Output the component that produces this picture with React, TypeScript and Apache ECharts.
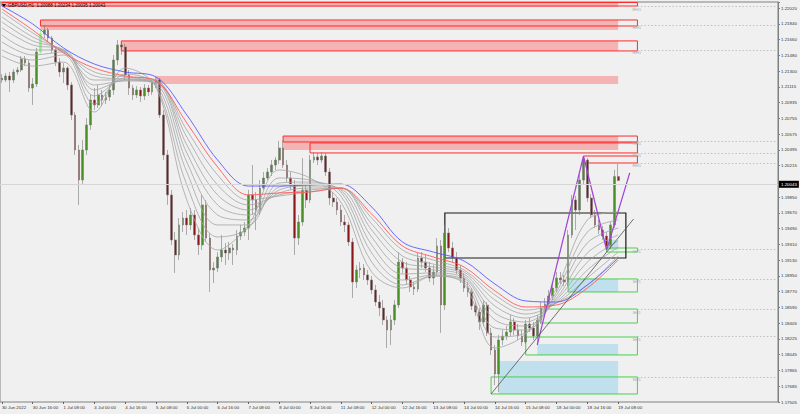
import React, { useEffect, useRef } from 'react';
import * as echarts from 'echarts';

// ---------- price data (GBPUSD bars) ----------
const opens = [1.21218,1.21195,1.21241,1.21195,1.21287,1.21310,1.21436,1.21390,1.21103,1.21149,1.21516,1.21722,1.21768,1.21676,1.21539,1.21401,1.21287,1.21332,1.21138,1.20794,1.20393,1.20049,1.20393,1.20680,1.20966,1.20909,1.21024,1.20966,1.21001,1.21081,1.21424,1.21597,1.21574,1.21253,1.21103,1.21024,1.21081,1.21012,1.21103,1.21058,1.21161,1.21195,1.20794,1.20336,1.19878,1.19362,1.19190,1.19534,1.19613,1.19534,1.19648,1.19419,1.19305,1.19763,1.19384,1.19018,1.19040,1.19167,1.19247,1.19213,1.19270,1.19247,1.19407,1.19453,1.19499,1.19878,1.19820,1.19705,1.19957,1.20072,1.20141,1.20221,1.20278,1.20416,1.20221,1.20072,1.19992,1.19384,1.19568,1.19935,1.19820,1.20278,1.20313,1.20278,1.20324,1.20141,1.19843,1.19797,1.19705,1.19568,1.19534,1.19339,1.18880,1.19018,1.19040,1.18961,1.18903,1.18789,1.18651,1.18582,1.18445,1.18330,1.18445,1.18617,1.19109,1.19040,1.18903,1.18823,1.18800,1.19155,1.19109,1.19040,1.18926,1.18995,1.19293,1.18617,1.19442,1.19270,1.19155,1.19018,1.18926,1.18811,1.18766,1.18605,1.18536,1.18422,1.18617,1.18296,1.18101,1.17826,1.18216,1.18261,1.18307,1.18422,1.18330,1.18261,1.18193,1.18399,1.18353,1.18261,1.18445,1.18582,1.18628,1.18720,1.18811,1.18926,1.18903,1.18880,1.19419,1.19820,1.19705,1.20049,1.20278,1.19843,1.19648,1.19534,1.19476,1.19407,1.19293,1.19534,1.20088];
const closes = [1.21195,1.21241,1.21195,1.21287,1.21310,1.21436,1.21390,1.21103,1.21149,1.21516,1.21722,1.21768,1.21676,1.21539,1.21401,1.21287,1.21332,1.21138,1.20794,1.20393,1.20049,1.20393,1.20680,1.20966,1.20909,1.21024,1.20966,1.21001,1.21081,1.21424,1.21597,1.21574,1.21253,1.21103,1.21024,1.21081,1.21012,1.21103,1.21058,1.21161,1.21195,1.20794,1.20336,1.19878,1.19362,1.19190,1.19534,1.19613,1.19534,1.19648,1.19419,1.19305,1.19763,1.19384,1.19018,1.19040,1.19167,1.19247,1.19213,1.19270,1.19247,1.19407,1.19453,1.19499,1.19878,1.19820,1.19705,1.19957,1.20072,1.20141,1.20221,1.20278,1.20416,1.20221,1.20072,1.19992,1.19384,1.19568,1.19935,1.19820,1.20278,1.20313,1.20278,1.20324,1.20141,1.19843,1.19797,1.19705,1.19568,1.19534,1.19339,1.18880,1.19018,1.19040,1.18961,1.18903,1.18789,1.18651,1.18582,1.18445,1.18330,1.18445,1.18617,1.19109,1.19040,1.18903,1.18823,1.18800,1.19155,1.19109,1.19040,1.18926,1.18995,1.19293,1.18617,1.19442,1.19270,1.19155,1.19018,1.18926,1.18811,1.18766,1.18605,1.18536,1.18422,1.18617,1.18296,1.18101,1.17826,1.18216,1.18261,1.18307,1.18422,1.18330,1.18261,1.18193,1.18399,1.18353,1.18261,1.18445,1.18582,1.18628,1.18720,1.18811,1.18926,1.18903,1.18880,1.19419,1.19820,1.19705,1.20049,1.20278,1.19843,1.19648,1.19534,1.19476,1.19407,1.19293,1.19534,1.20088,1.20043];
const lows = [1.21161,1.21172,1.21058,1.21161,1.21253,1.21287,1.21355,1.21058,1.20909,1.21115,1.21482,1.21676,1.21631,1.21505,1.21355,1.21230,1.21161,1.21081,1.20737,1.20336,1.19763,1.19992,1.20336,1.20622,1.20851,1.20874,1.20897,1.20920,1.20955,1.21024,1.21367,1.21482,1.21195,1.21024,1.20966,1.20989,1.20943,1.20966,1.21012,1.21024,1.21103,1.20759,1.20278,1.19763,1.19305,1.18984,1.19132,1.19453,1.19419,1.19476,1.19362,1.19190,1.19247,1.19339,1.18766,1.18869,1.18995,1.19109,1.19075,1.19132,1.19075,1.19190,1.19362,1.19407,1.19362,1.19648,1.19476,1.19648,1.19935,1.20049,1.20095,1.20164,1.20232,1.20186,1.20026,1.19935,1.19190,1.19305,1.19522,1.19728,1.19786,1.20244,1.20221,1.20244,1.20095,1.19763,1.19740,1.19648,1.19522,1.19453,1.19293,1.18697,1.18811,1.18926,1.18903,1.18846,1.18743,1.18605,1.18490,1.18388,1.18124,1.18159,1.18388,1.18582,1.18984,1.18857,1.18766,1.18732,1.18766,1.19040,1.18995,1.18880,1.18846,1.18949,1.18296,1.18559,1.19224,1.19109,1.18972,1.18869,1.18766,1.18709,1.18559,1.18490,1.18330,1.18376,1.18261,1.18044,1.17700,1.17620,1.18159,1.18216,1.18261,1.18273,1.18216,1.18147,1.18170,1.18307,1.18216,1.18159,1.18399,1.18525,1.18605,1.18674,1.18766,1.18857,1.18834,1.18834,1.19384,1.19476,1.19648,1.19992,1.19797,1.19613,1.19499,1.19430,1.19362,1.19247,1.19259,1.19499,1.20035];
const highs = [1.21264,1.21276,1.21287,1.21321,1.21344,1.21470,1.21470,1.21424,1.21218,1.21562,1.21768,1.21826,1.21791,1.21699,1.21562,1.21447,1.21390,1.21355,1.21172,1.20828,1.20451,1.20508,1.20759,1.21024,1.21103,1.21138,1.21081,1.21058,1.21138,1.21482,1.21654,1.21643,1.21608,1.21310,1.21138,1.21126,1.21115,1.21149,1.21138,1.21195,1.21230,1.21218,1.20851,1.20393,1.19935,1.19453,1.19613,1.19682,1.19705,1.19728,1.19705,1.19499,1.19878,1.19820,1.19442,1.19109,1.19224,1.19419,1.19328,1.19339,1.19316,1.19476,1.19534,1.19568,1.19935,1.20221,1.19912,1.20049,1.20141,1.20186,1.20278,1.20313,1.20497,1.20497,1.20278,1.20141,1.20049,1.19648,1.20301,1.19992,1.20336,1.20370,1.20359,1.20370,1.20359,1.20186,1.19912,1.19843,1.19763,1.19648,1.19568,1.19384,1.19075,1.19109,1.19086,1.19018,1.18949,1.18846,1.18732,1.18674,1.18490,1.18502,1.18674,1.19224,1.19155,1.19109,1.18949,1.18880,1.19213,1.19224,1.19190,1.19109,1.19075,1.19384,1.19362,1.19534,1.19499,1.19339,1.19224,1.19075,1.18984,1.18880,1.18811,1.18651,1.18582,1.18674,1.18651,1.18353,1.18159,1.18273,1.18330,1.18376,1.18502,1.18467,1.18399,1.18330,1.18445,1.18467,1.18422,1.18502,1.18651,1.18697,1.18789,1.18869,1.18995,1.18995,1.18961,1.19476,1.19878,1.19866,1.20107,1.20324,1.20301,1.19889,1.19705,1.19591,1.19522,1.19453,1.19568,1.20164,1.20234];
const highlightBars = [10];

// ---------- time axis ----------
const totalSlots = 202;
const xTickIdx = [0,8,16,24,32,40,48,56,64,72,80,88,96,104,112,120,128,136,144,152,160];
const xTickLabels = ['30 Jun 2022','30 Jun 16:00','1 Jul 08:00','4 Jul 00:00','4 Jul 16:00','5 Jul 08:00','6 Jul 00:00','6 Jul 16:00','7 Jul 08:00','8 Jul 00:00','8 Jul 16:00','11 Jul 08:00','12 Jul 00:00','12 Jul 16:00','13 Jul 08:00','14 Jul 00:00','14 Jul 16:00','15 Jul 08:00','18 Jul 00:00','18 Jul 16:00','19 Jul 08:00'];

// ---------- price axis ----------
const yMin = 1.17505;
const yMax = 1.22089;
const yStep = 0.001806;
const yLabels = ['1.17505','1.17685','1.17865','1.18045','1.18225','1.18405','1.18590','1.18770','1.18950','1.19130','1.19310','1.19490','1.19670','1.19850','1.20035','1.20215','1.20395','1.20575','1.20755','1.20935','1.21115','1.21300','1.21480','1.21660','1.21840','1.22020'];
const hiddenYLabel = '1.20035';
const lastPrice = 1.20043;
const titleText = 'GBPUSD,H1  1.20088 1.20234 1.20035 1.20043';

// ---------- moving averages (sampled every 8 bars) ----------
const maIdx = [0,8,16,24,32,40,48,56,64,72,80,88,96,104,112,120,128,136,144,152,160];
const maBlue = [1.22043,1.21837,1.21562,1.21378,1.21287,1.21230,1.20794,1.20278,1.19980,1.19980,1.19992,1.20003,1.19740,1.19339,1.19224,1.19121,1.18857,1.18663,1.18651,1.18846,1.19155];
const maRed = [1.22009,1.21768,1.21505,1.21332,1.21241,1.21184,1.20703,1.20198,1.19878,1.19901,1.19912,1.19957,1.19659,1.19293,1.19167,1.19052,1.18778,1.18594,1.18617,1.18811,1.19132];
const maGray1 = [1.21974,1.21734,1.21516,1.21287,1.21230,1.21195,1.20622,1.20107,1.19820,1.19866,1.19912,1.19957,1.19613,1.19247,1.19132,1.19018,1.18732,1.18559,1.18640,1.18846,1.19178];
const maGray2 = [1.21917,1.21688,1.21528,1.21241,1.21207,1.21184,1.20542,1.19992,1.19763,1.19878,1.19935,1.19957,1.19545,1.19178,1.19086,1.18995,1.18674,1.18513,1.18640,1.18926,1.19224];
const maGray3 = [1.21860,1.21643,1.21539,1.21195,1.21195,1.21172,1.20451,1.19878,1.19705,1.19901,1.19957,1.19957,1.19476,1.19109,1.19052,1.18972,1.18605,1.18467,1.18651,1.19018,1.19282];
const maGray4 = [1.21791,1.21597,1.21539,1.21138,1.21184,1.21161,1.20359,1.19763,1.19648,1.19935,1.19980,1.19946,1.19396,1.19040,1.19018,1.18949,1.18525,1.18422,1.18674,1.19109,1.19350];
const maGray5 = [1.21711,1.21539,1.21539,1.21081,1.21195,1.21149,1.20255,1.19648,1.19591,1.19969,1.20003,1.19935,1.19305,1.18972,1.18984,1.18926,1.18445,1.18376,1.18697,1.19213,1.19419];
const maGray6 = [1.21631,1.21482,1.21516,1.21012,1.21218,1.21138,1.20141,1.19534,1.19534,1.20015,1.20026,1.19912,1.19213,1.18903,1.18961,1.18903,1.18353,1.18330,1.18732,1.19328,1.19499];
const maGray7 = [1.21539,1.21424,1.21482,1.20920,1.21264,1.21126,1.19992,1.19396,1.19499,1.20072,1.20049,1.19866,1.19109,1.18846,1.18949,1.18880,1.18250,1.18296,1.18766,1.19453,1.19591];
const maGray8 = [1.21470,1.21355,1.21401,1.20828,1.21332,1.21115,1.19820,1.19247,1.19534,1.20164,1.20072,1.19797,1.18995,1.18811,1.18949,1.18857,1.18124,1.18284,1.18811,1.19591,1.19682];
const grayLines = [maGray1, maGray2, maGray3, maGray4, maGray5, maGray6, maGray7, maGray8];

// ---------- zones: [startBar, topPrice, endBar, bottomPrice] ----------
const pinkFills = [[0,1.22083,160,1.22032],[10,1.21883,160,1.21768],[31,1.21643,160,1.21528],[40,1.21241,160,1.21149],[73,1.20553,160,1.20393]];
const blueFills = [[157,1.19362,160,1.19247],[147,1.18915,160,1.18766],[139,1.18170,160,1.18044],[129,1.17975,160,1.17597]];
const redBoxes = [[0,1.22083,165,1.22043],[10,1.21883,165,1.21814],[31,1.21643,165,1.21528],[73,1.20553,165,1.20485],[80,1.20474,165,1.20359],[151,1.20324,165,1.20244]];
const greenBoxes = [[157,1.19270,165,1.19224],[147,1.18915,165,1.18766],[140,1.18570,165,1.18410],[136,1.18250,165,1.18044],[127,1.17792,165,1.17597]];
const blackBox = [115,1.19671,162,1.19155];
const levelStart = 165;
const levelEnd = 201;
const rhLevels = [1.22043,1.21826,1.21539,1.20497,1.20359,1.20244];
const shLevels = [1.19259,1.18915,1.18570,1.18261,1.17792];
const zigzag = [[139,1.18159],[151,1.20324],[157,1.19247],[163,1.20130]];
const trendLine = [[127,1.17597],[164,1.19602]];

const FONT = 'Liberation Sans, Arial, sans-serif';

function buildOption() {
  const categories = Array.from({ length: totalSlots }, (_, i) => String(i));
  const tickSet = new Set(xTickIdx);
  const tickLabelMap: Record<number, string> = {};
  xTickIdx.forEach((ix, k) => { tickLabelMap[ix] = xTickLabels[k]; });

  const candleData = opens.map((o, i) => {
    const v = [o, closes[i], lows[i], highs[i]];
    if (highlightBars.includes(i)) {
      return { value: v, itemStyle: { color: '#8cf08c', color0: '#8cf08c', borderColor: '#8cf08c', borderColor0: '#8cf08c' } };
    }
    return v;
  });

  const toArea = (b: number[], style: any) => [
    { coord: [b[0], b[1]], itemStyle: style },
    { coord: [b[2], b[3]] },
  ];

  const maSeries = (arr: number[], color: string, width: number) => ({
    type: 'line',
    data: maIdx.map((ix, k) => [ix, arr[k]]),
    showSymbol: false,
    symbol: 'none',
    smooth: 0.35,
    silent: true,
    z: 3,
    lineStyle: { color, width },
  });

  const lvlLabel = (txt: string) => ({ show: true, formatter: txt, position: 'insideStartBottom', distance: 1, fontSize: 4.4, color: '#a8a8a8', fontFamily: FONT, offset: [-6, 0] });
  const levelLines: any[] = [];
  rhLevels.forEach((p) => levelLines.push([
    { coord: [levelStart, p], lineStyle: { color: '#b4b4b4', type: [1.5, 2], width: 0.8 }, label: lvlLabel('RH1') },
    { coord: [levelEnd, p] },
  ]));
  shLevels.forEach((p) => levelLines.push([
    { coord: [levelStart, p], lineStyle: { color: '#b4b4b4', type: [1.5, 2], width: 0.8 }, label: lvlLabel('SH1') },
    { coord: [levelEnd, p] },
  ]));
  const zigLines: any[] = [];
  for (let k = 0; k < zigzag.length - 1; k++) {
    zigLines.push([
      { coord: zigzag[k], lineStyle: { color: '#a040d8', width: 1.2, type: 'solid' }, label: { show: false } },
      { coord: zigzag[k + 1] },
    ]);
  }
  const trend = [[
    { coord: trendLine[0], lineStyle: { color: '#505050', width: 0.8, type: 'solid' }, label: { show: false } },
    { coord: trendLine[1] },
  ]];

  return {
    animation: false,
    backgroundColor: '#f0f0f0',
    textStyle: { fontFamily: FONT },
    grid: {
      left: 0, right: 22, top: 2, bottom: 12,
      show: true, borderColor: '#808080', borderWidth: 1, backgroundColor: '#f0f0f0',
      containLabel: false, outerBoundsMode: 'none',
    },
    xAxis: {
      type: 'category',
      data: categories,
      boundaryGap: true,
      axisLine: { show: false },
      axisTick: { show: true, alignWithLabel: true, length: 2, interval: (i: number) => tickSet.has(i), lineStyle: { color: '#606060' } },
      axisLabel: {
        interval: (i: number) => tickSet.has(i),
        formatter: (_v: string, i: number) => tickLabelMap[i] ?? '',
        align: 'left', fontSize: 4.4, color: '#303030', margin: 3, fontFamily: FONT,
      },
      splitLine: { show: false },
    },
    yAxis: {
      type: 'value',
      position: 'right',
      min: yMin, max: yMax, interval: yStep,
      axisLine: { show: true, lineStyle: { color: '#808080' } },
      axisTick: { show: true, length: 2, lineStyle: { color: '#808080' } },
      axisLabel: {
        fontSize: 4.4, color: '#303030', margin: 3, fontFamily: FONT,
        formatter: (v: number) => {
          const k = Math.round((v - yMin) / yStep);
          if (Math.abs(v - (yMin + k * yStep)) > yStep * 0.1) return '';
          const s = yLabels[k] ?? '';
          return s === hiddenYLabel ? '' : s;
        },
      },
      splitLine: { show: false },
    },
    graphic: [
      { type: 'polygon', shape: { points: [[2, 4], [6, 4], [4, 7]] }, style: { fill: '#000' }, z: 10 },
      { type: 'text', left: 8, top: 3, style: { text: titleText, fontSize: 4.5, fill: '#000', fontFamily: FONT }, z: 10 },
    ],
    series: [
      {
        type: 'line', name: 'zones', data: [], silent: true, z: 1, symbol: 'none',
        markArea: {
          silent: true,
          data: [
            ...pinkFills.map((b) => toArea(b, { color: '#f5b4b4' })),
            ...blueFills.map((b) => toArea(b, { color: '#bfe0ec' })),
          ],
        },
      },
      {
        type: 'candlestick',
        data: candleData,
        barWidth: 2.2,
        z: 2,
        silent: true,
        itemStyle: { color: '#4a8f22', color0: '#8b1414', borderColor: '#7a7a7a', borderColor0: '#7a7a7a', borderWidth: 0.6 },
      },
      ...grayLines.map((g) => maSeries(g, '#a4a4a4', 0.8)),
      maSeries(maRed, '#ff5a5a', 0.9),
      maSeries(maBlue, '#5a5aff', 0.9),
      {
        type: 'line', name: 'objects', data: [], silent: true, z: 5, symbol: 'none',
        markArea: {
          silent: true,
          data: [
            ...redBoxes.map((b) => toArea(b, { color: 'rgba(0,0,0,0)', borderColor: '#ff2a2a', borderWidth: 1 })),
            ...greenBoxes.map((b) => toArea(b, { color: 'rgba(0,0,0,0)', borderColor: '#4ccf4c', borderWidth: 1 })),
            toArea(blackBox, { color: 'rgba(0,0,0,0)', borderColor: '#1a1a1a', borderWidth: 1.2 }),
          ],
        },
        markLine: {
          silent: true,
          symbol: ['none', 'none'],
          label: { show: false },
          data: [
            ...levelLines,
            ...zigLines,
            ...trend,
            {
              yAxis: lastPrice,
              lineStyle: { color: '#d6d6d6', width: 1, type: 'solid' },
              label: {
                show: true, position: 'end', formatter: lastPrice.toFixed(5), distance: 1,
                backgroundColor: '#000', color: '#fff', fontSize: 4.4, padding: [1.5, 2], fontFamily: FONT,
              },
            },
          ],
        },
      },
    ],
  };
}

export default function App() {
  const ref = useRef<HTMLDivElement>(null);
  useEffect(() => {
    document.body.style.margin = '0';
    const chart = echarts.init(ref.current as HTMLDivElement, null, { renderer: 'svg' });
    chart.setOption(buildOption() as any);
    return () => chart.dispose();
  }, []);
  return <div ref={ref} style={{ width: 800, height: 414, background: '#f0f0f0' }} />;
}
